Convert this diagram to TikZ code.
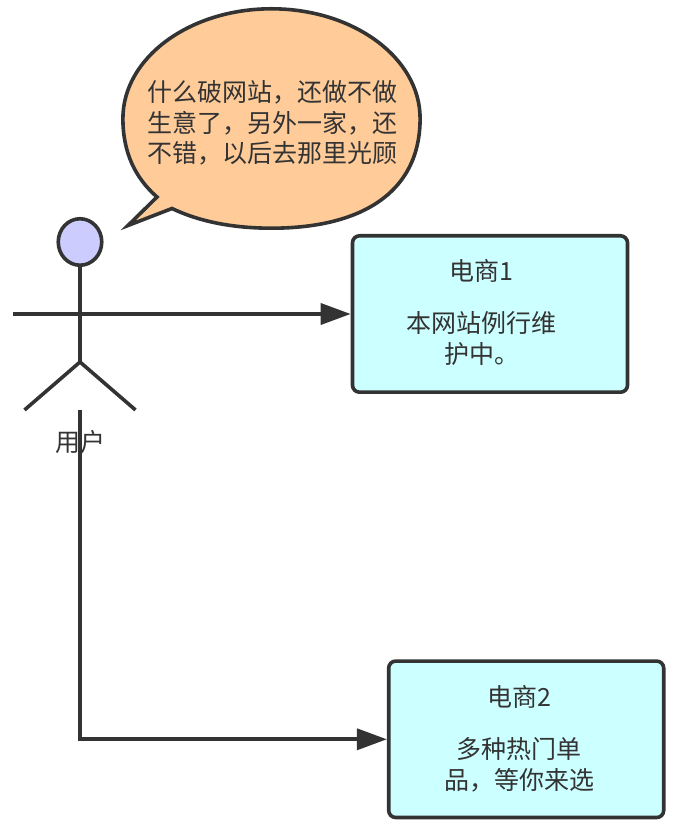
\documentclass[tikz,border=0pt]{standalone}
\usepackage{fontspec}
\setmainfont{Noto Sans CJK SC}
\usetikzlibrary{arrows.meta,shapes.geometric}
\definecolor{ink}{HTML}{333333}
\definecolor{boxfill}{HTML}{CCFFFF}
\definecolor{bubblefill}{HTML}{FFCC99}
\definecolor{headfill}{HTML}{CCCCFF}
\tikzset{
  x=1pt,y=1pt,
  outline/.style={draw=ink,line width=3.6pt},
  sitebox/.style={outline,fill=boxfill,rounded corners=7pt,minimum width=275pt,minimum height=156.4pt,inner sep=0pt},
  caption/.style={text=ink,inner sep=0pt,align=center,font=\fontsize{25}{30.5}\selectfont},
  link/.style={draw=ink,line width=3.6pt,-{Triangle[length=30pt,width=21pt]}},
  limb/.style={draw=ink,line width=3.6pt},
}
\begin{document}
\begin{tikzpicture}
\useasboundingbox (0,0) rectangle (681,838);
% speech bubble (y values are 838 minus the image row)
\draw[outline,fill=bubblefill,line join=miter]
  (172,629.5) .. controls (199.2,616.5) and (232.6,609.8) .. (271.5,609.8)
  .. controls (359.9,609.8) and (420.1,644.4) .. (420.1,719.5)
  arc[start angle=0,end angle=180,x radius=148.6,y radius=109.7]
  .. controls (122.9,685.7) and (135.1,660.1) .. (157,641)
  -- (128,612.5) -- cycle;
\node[caption] (bubbletext) at (272,715) {什么破网站，还做不做\\生意了，另外一家，还\\不错，以后去那里光顾};
% sites
\node[sitebox] (site1) at (490,524) {};
\node[caption] (site1text) at (481.5,526) {电商1\\[22pt]本网站例行维\\护中。};
\node[sitebox] (site2) at (526.2,98.7) {};
\node[caption] (site2text) at (519,99.5) {电商2\\[22pt]多种热门单\\品，等你来选};
% actor
\coordinate (hip) at (80,476);
\coordinate (handL) at (13,524);
\coordinate (footL) at (24.5,428);
\coordinate (footR) at (135.5,428);
\coordinate (tail) at (80,428);
\coordinate (corner) at (tail |- site2.west);
\node[outline,fill=headfill,ellipse,minimum width=43.5pt,minimum height=46.5pt,inner sep=0pt] (head) at (80,596) {};
\draw[limb] (head.south) -- (hip);
\draw[limb] (footL) -- (hip) -- (footR);
\node[caption] (user) at (80,396) {用户};
% connectors
\draw[link] (handL) -- (site1.west);
\draw[link] (tail) -- (corner) -- (site2.west);
\end{tikzpicture}
\end{document}
